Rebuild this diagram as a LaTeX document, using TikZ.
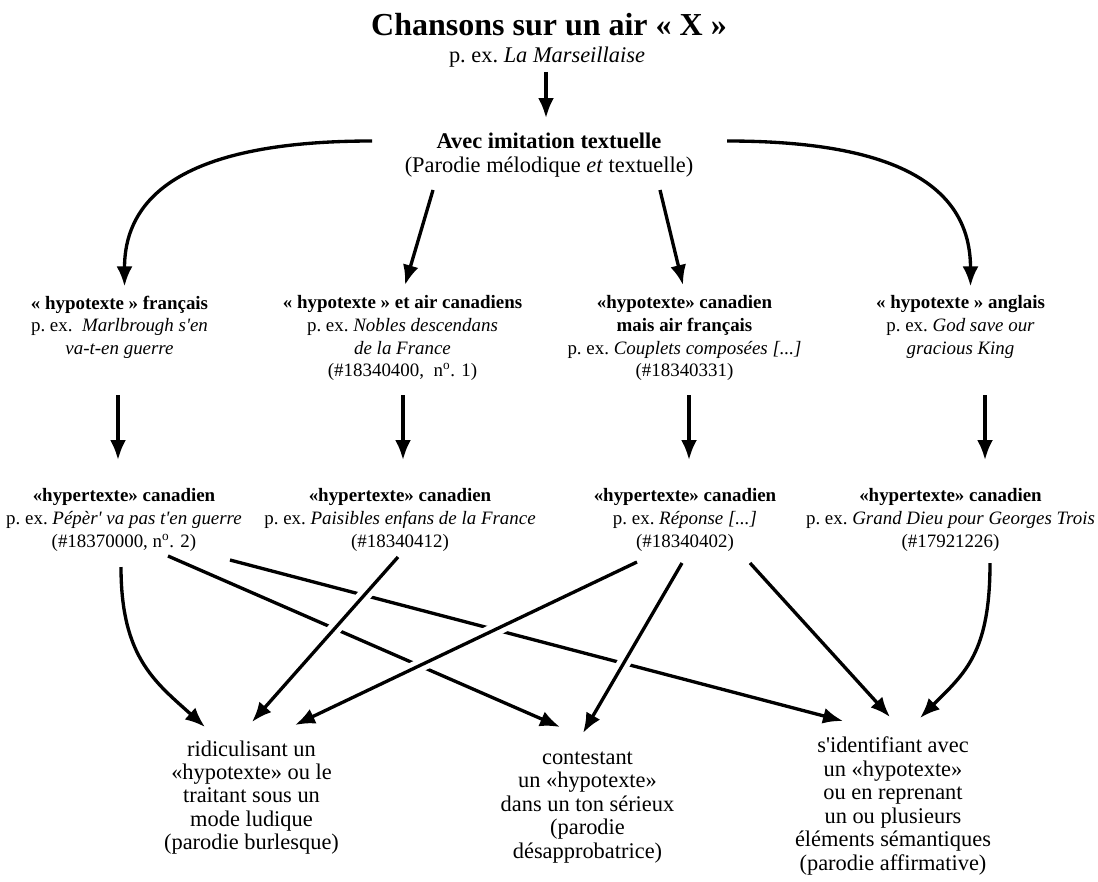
\documentclass[tikz,border=0pt]{standalone}
\usepackage{fontspec}
\setmainfont{Liberation Serif}[Ligatures=TeXOff]
\usetikzlibrary{arrows.meta,calc}
\tikzset{
  titre/.style={font=\fontsize{24}{26}\selectfont\bfseries,inner sep=0pt,anchor=base},
  haut/.style={font=\fontsize{16.8}{17.4}\selectfont,align=center,inner sep=0pt},
  hypo/.style={font=\fontsize{14.2}{17}\selectfont,align=center,inner sep=0pt,anchor=north},
  bas/.style={font=\fontsize{16.8}{17.6}\selectfont,align=center,inner sep=0pt,anchor=north},
  fleche/.style={-{Latex[length=15pt,width=12pt]},line width=2.5pt},
  pont/.style={preaction={draw=white,line width=10pt,-}}
}
\begin{document}
\begin{tikzpicture}[x=0.75pt,y=-0.75pt]
\useasboundingbox (0,0) rectangle (1098,881);
\node[titre] (titre) at (549,36) {Chansons sur un air « X »};
\node[haut,anchor=base] (exemple) at (547,63) {p.\ ex.\ \textit{La Marseillaise}};
\node[haut,anchor=north] (avec) at (549,133) {{\bfseries Avec imitation textuelle}\\(Parodie mélodique \textit{et} textuelle)};

\node[hypo] (n1) at (119.5,295.4) {{\bfseries « hypotexte » français}\\p.\ ex.\ \ \textit{Marlbrough s'en}\\\textit{va-t-en guerre}};
\node[hypo] (n2) at (402.5,295.4) {{\bfseries « hypotexte » et air canadiens}\\p.\ ex.\ \textit{Nobles descendans}\\\textit{de la France}\\(\#18340400,\ \ n\textsuperscript{o}. 1)};
\node[hypo] (n3) at (684.5,295.4) {{\bfseries «hypotexte» canadien}\\{\bfseries mais air français}\\p.\ ex.\ \textit{Couplets composées [...]}\\(\#18340331)};
\node[hypo] (n4) at (960.5,295.4) {{\bfseries « hypotexte » anglais}\\p.\ ex.\ \textit{God save our}\\\textit{gracious King}};

\node[hypo] (h1) at (124,488.4) {{\bfseries «hypertexte» canadien}\\p.\ ex.\ \textit{Pépèr' va pas t'en guerre}\\(\#18370000, n\textsuperscript{o}. 2)};
\node[hypo] (h2) at (400,488.4) {{\bfseries «hypertexte» canadien}\\p.\ ex.\ \textit{Paisibles enfans de la France}\\(\#18340412)};
\node[hypo] (h3) at (685,488.4) {{\bfseries «hypertexte» canadien}\\p.\ ex.\ \textit{Réponse [...]}\\(\#18340402)};
\node[hypo] (h4) at (950.5,488.4) {{\bfseries «hypertexte» canadien}\\p.\ ex.\ \textit{Grand Dieu pour Georges Trois}\\(\#17921226)};

\node[bas] (b1) at (251.5,740.2) {ridiculisant un\\«hypotexte» ou le\\traitant sous un\\mode ludique\\(parodie burlesque)};
\node[bas] (b2) at (587.5,751.5) {contestant\\un «hypotexte»\\dans un ton sérieux\\(parodie\\désapprobatrice)};
\node[bas] (b3) at (893,736.7) {s'identifiant avec\\un «hypotexte»\\ou en reprenant\\un ou plusieurs\\éléments sémantiques\\(parodie affirmative)};

% du titre vers les quatre types
\draw[fleche] ($(exemple.base)+(-1,9)$) -- ($(avec.north)+(-3,-15)$);
\draw[fleche] ($(avec.north)+(-177,8)$) .. controls +(-170,0) and +(0,-100) .. ($(n1.north)+(5,-9)$);
\draw[fleche] ($(avec.north)+(-116,57)$) -- ($(n2.north)+(2.5,-10.4)$);
\draw[fleche] ($(avec.north)+(111,57)$) -- ($(n3.north)+(-1.5,-10.4)$);
\draw[fleche] ($(avec.north)+(178,8)$) .. controls +(170,0) and +(0,-100) .. ($(n4.north)+(10,-9)$);

\draw[fleche] ($(n1.north)+(-1.5,99.6)$) -- ($(h1.north)+(-6,-28.4)$);
\draw[fleche] ($(n2.north)+(0.5,99.6)$) -- ($(h2.north)+(3,-28.4)$);
\draw[fleche] ($(n3.north)+(4.5,99.6)$) -- ($(h3.north)+(4,-28.4)$);
\draw[fleche] ($(n4.north)+(24.5,99.6)$) -- ($(h4.north)+(34.5,-28.4)$);

% hypertextes vers les trois parodies
\draw[fleche] ($(h1.north)+(-3,78.6)$) .. controls +(0,90) and +(-50,-45) .. ($(b1.north)+(-46.5,-13.2)$);
\draw[fleche] ($(h1.north)+(44,67.6)$) -- ($(b2.north)+(-27.5,-24.5)$);
\draw[fleche] ($(h1.north)+(106,71.6)$) -- ($(b3.north)+(-50,-15.7)$);
\draw[fleche,pont] ($(h2.north)+(-2,68.6)$) -- ($(b1.north)+(0.5,-18.2)$);
\draw[fleche,pont] ($(h3.north)+(-48,73.6)$) -- ($(b1.north)+(43.5,-15.2)$);
\draw[fleche,pont] ($(h3.north)+(-3,74.6)$) -- ($(b2.north)+(-4.5,-18.5)$);
\draw[fleche,pont] ($(h3.north)+(65,74.6)$) -- ($(b3.north)+(-3,-19.7)$);
\draw[fleche] ($(h4.north)+(39.5,74.6)$) .. controls +(0,90) and +(45,-45) .. ($(b3.north)+(27,-18.7)$);
\end{tikzpicture}
\end{document}
